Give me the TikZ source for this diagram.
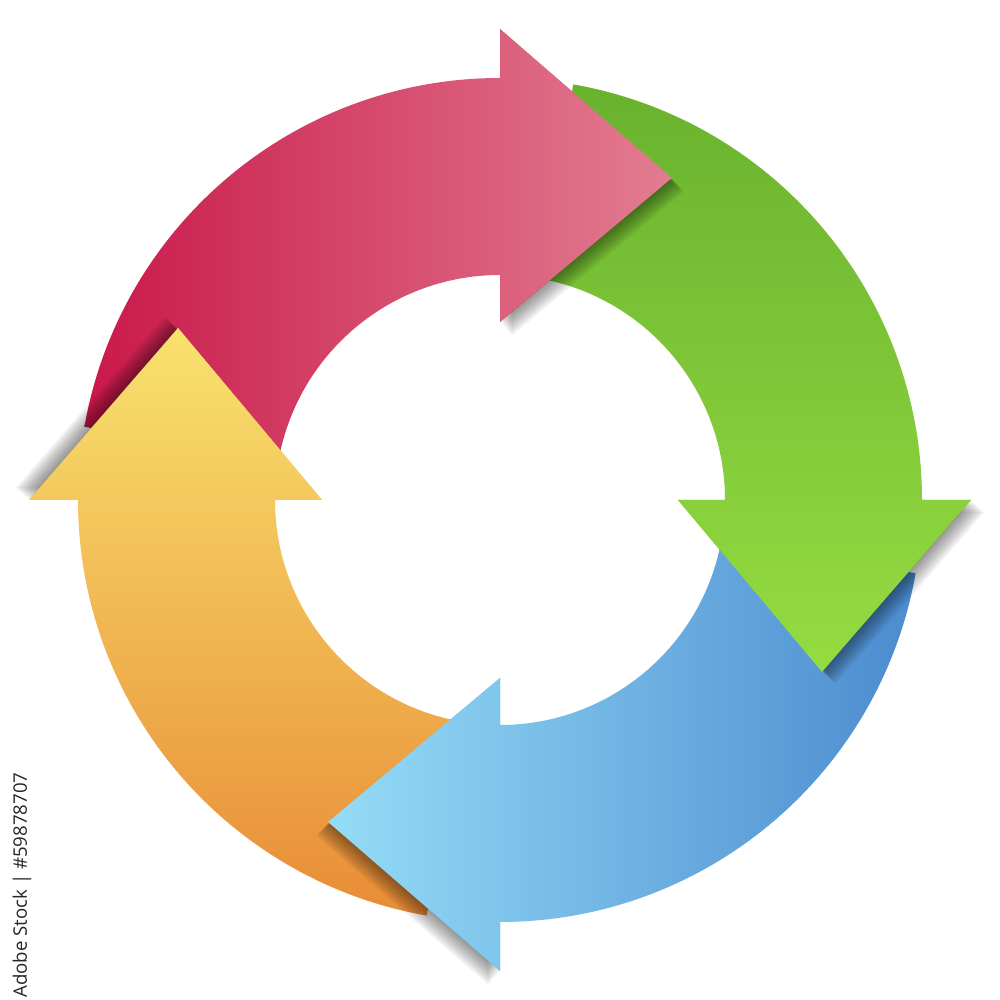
\documentclass[tikz,border=0pt]{standalone}
\usepackage{fontspec}
\newfontfamily\idfont{Open Sans}
\begin{document}
\begin{tikzpicture}[x=0.01cm,y=0.01cm,
  redarrow/.style={left color=red1, right color=red2},
  greenarrow/.style={top color=green1, bottom color=green2},
  bluearrow/.style={left color=blue2, right color=blue1},
  orangearrow/.style={top color=orange2, bottom color=orange1},
  shadowstep/.style={fill=black, fill opacity=0.05},
  idtext/.style={rotate=90, text=black!85, font=\idfont\fontsize{5.3}{6}\selectfont, inner sep=0pt}]
\definecolor{red1}{HTML}{C9184A}
\definecolor{red2}{HTML}{E27D91}
\definecolor{green1}{HTML}{69B22E}
\definecolor{green2}{HTML}{95DC42}
\definecolor{blue1}{HTML}{4B8BCF}
\definecolor{blue2}{HTML}{95DCF7}
\definecolor{orange1}{HTML}{E88C36}
\definecolor{orange2}{HTML}{F8E26E}
\def\ArrowPath#1{(170-#1:422) arc[start angle=170-#1, end angle=90-#1, radius=422]
   -- (90-#1:471) -- (61.9-#1:365) -- (90-#1:178) -- (90-#1:225)
   arc[start angle=90-#1, end angle=170-#1, radius=225] -- cycle}
\def\HeadPath#1{(90-#1:178) -- (90-#1:471) -- (61.9-#1:365) -- cycle}
\fill[white] (0,0) rectangle (1000,1000);
\useasboundingbox (0,0) rectangle (1000,1000);
\begin{scope}[shift={(500,500)}]
  % bodies
  \shade[redarrow] \ArrowPath{0};
  \shade[greenarrow] \ArrowPath{90};
  \shade[bluearrow] \ArrowPath{180};
  \shade[orangearrow] \ArrowPath{270};
  % shadows of heads
  \foreach \k in {2,4,...,18} {
    \fill[shadowstep, shift={({\k*0.65},{-\k*0.76})}] \HeadPath{0};
    \fill[shadowstep, shift={({\k*0.76},{-\k*0.65})}] \HeadPath{90};
    \fill[shadowstep, shift={({-\k*0.64},{-\k*0.77})}] \HeadPath{180};
    \fill[shadowstep, shift={({-\k*0.76},{\k*0.65})}] \HeadPath{270};
  }
  % heads on top
  \begin{scope}\clip \HeadPath{0}; \shade[redarrow] \ArrowPath{0}; \end{scope}
  \begin{scope}\clip \HeadPath{90}; \shade[greenarrow] \ArrowPath{90}; \end{scope}
  \begin{scope}\clip \HeadPath{180}; \shade[bluearrow] \ArrowPath{180}; \end{scope}
  \begin{scope}\clip \HeadPath{270}; \shade[orangearrow] \ArrowPath{270}; \end{scope}
\end{scope}
\node[idtext] (id) at (22,115) {Adobe Stock | \#59878707};
\end{tikzpicture}
\end{document}
